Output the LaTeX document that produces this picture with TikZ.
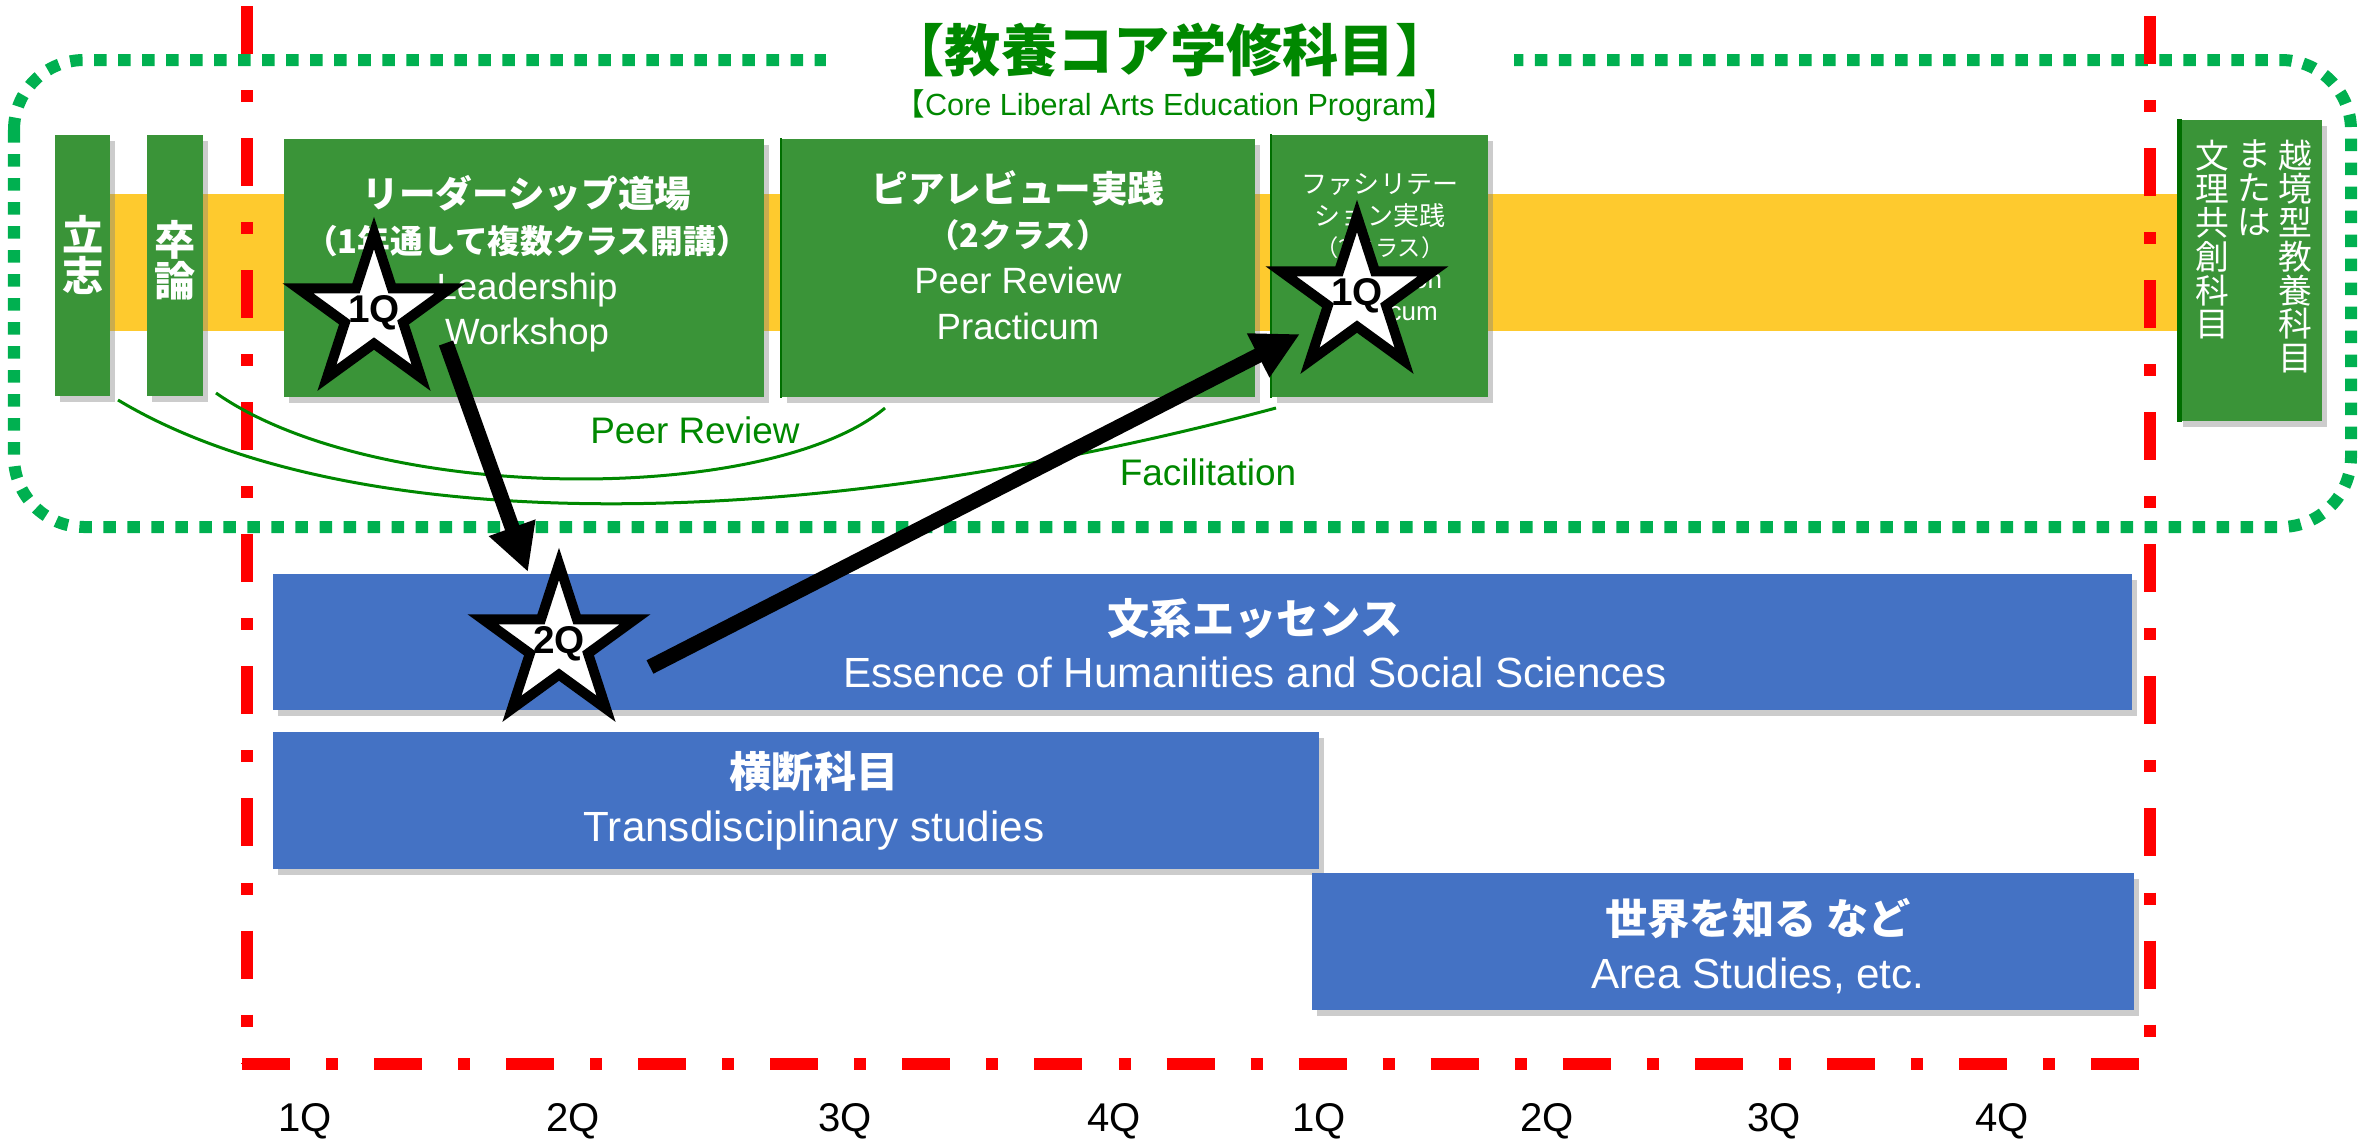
\documentclass[tikz,border=0pt]{standalone}
\usepackage{fontspec}
\setmainfont{Liberation Sans}
\newfontfamily\jp{Noto Sans CJK JP}
\usetikzlibrary{shapes.geometric,shadows,fit,arrows.meta}

\definecolor{dotgreen}{RGB}{0,176,80}
\definecolor{txtgreen}{RGB}{0,136,0}
\definecolor{boxgreen}{RGB}{58,148,56}
\definecolor{edgegreen}{RGB}{0,110,0}
\definecolor{bandyellow}{RGB}{254,202,46}
\definecolor{boxblue}{RGB}{68,114,196}

\tikzstyle{gbox}=[fill=boxgreen,inner sep=0pt,drop shadow={shadow xshift=0.05cm,shadow yshift=-0.06cm,fill=black!50,opacity=0.4}]
\tikzstyle{bbox}=[fill=boxblue,inner sep=0pt,drop shadow={shadow xshift=0.05cm,shadow yshift=-0.06cm,fill=black!50,opacity=0.4}]
\tikzstyle{wtext}=[text=white,align=center,inner sep=0pt]
\tikzstyle{qstar}=[star,star points=5,star point ratio=2.618,draw,line width=0.1cm,fill=white,minimum size=1.6cm,inner sep=0pt]
\tikzstyle{qnum}=[font=\fontsize{11}{13}\selectfont\bfseries,inner sep=0pt]
\tikzstyle{qlabel}=[font=\fontsize{11.4}{13}\selectfont]
\tikzstyle{redframe}=[red,line width=0.12cm,dash pattern=on 0.48cm off 0.36cm on 0.12cm off 0.36cm]
\tikzstyle{linkarc}=[txtgreen,line width=0.03cm]
\tikzstyle{arclabel}=[text=txtgreen,font=\fontsize{10.5}{12}\selectfont]
\tikzstyle{bigarrow}=[line width=0.15cm,-{Triangle[width=0.46cm,length=0.47cm]}]
\newcommand{\pxunit}{0.01cm}

\begin{document}
\begin{tikzpicture}[x=\pxunit, y=-\pxunit]
    \useasboundingbox (0,0) rectangle (2369,1145);
    % First the yellow band behind the green courses
    \fill[bandyellow] (80,194) rectangle (2200,331);
    % The dotted frame of the core program
    \draw[dotgreen,line width=0.12cm,dash pattern=on 0.125cm off 0.115cm,rounded corners=0.7cm]
        (14,60) rectangle (2351,527);
    % Dash-dot frame of the two years
    \draw[redframe] (247,6) -- (247,1064);
    \draw[redframe] (2150,16) -- (2150,1064);
    \draw[redframe] (242,1064) -- (2150,1064);
    % Title over the dotted frame
    \node[text=txtgreen,fill=white,inner xsep=0.63cm,inner ysep=0.05cm,
          font=\jp\bfseries\fontsize{16}{19}\selectfont] (title) at (1170,50) {【教養コア学修科目】};
    \node[text=txtgreen,font=\fontsize{8.7}{10}\selectfont] (subtitle) at (1175,106)
        {{\jp 【}Core Liberal Arts Education Program{\jp 】}};

    % Green course boxes
    \foreach \xa/\ya/\xb/\yb/\name in {55/135/110/396/rissi, 147/135/203/396/sotsu,
                                       284/139/764/397/lead, 782/139/1255/397/peer,
                                       1272/135/1488/397/facil, 2178/120/2322/421/ekyo}
        \node[gbox,fit={(\xa,\ya) (\xb,\yb)}] (\name) {};
    \draw[edgegreen,line width=0.02cm] (peer.north west) -- (peer.south west);
    \draw[edgegreen,line width=0.02cm] (facil.north west) -- (facil.south west);
    \draw[edgegreen,line width=0.05cm] ([xshift=0.025cm]ekyo.north west) -- ([xshift=0.025cm]ekyo.south west);

    \node[wtext,font=\jp\bfseries\fontsize{11.7}{11.7}\selectfont] (tRissi) at (83,255) {立\\志};
    \node[wtext,font=\jp\bfseries\fontsize{11.7}{11.7}\selectfont] (tSotsu) at (175,260) {卒\\論};
    \node[wtext,font=\fontsize{10.4}{13}\selectfont] (tLead) at (527,264)
        {{\jp\bfseries リーダーシップ道場}\\{\jp\bfseries\fontsize{9.3}{13}\selectfont （1年通して複数クラス開講）}\\Leadership\\Workshop};
    \node[wtext,font=\fontsize{10.4}{13}\selectfont] (tPeer) at (1018,255)
        {{\jp\bfseries ピアレビュー実践}\\{\jp\bfseries\fontsize{9.2}{13}\selectfont （2クラス）}\\Peer Review\\Practicum};
    \node[wtext,font=\fontsize{7.4}{9}\selectfont] (tFacil) at (1380,247)
        {{\jp ファシリテー}\\{\jp ション実践}\\{\jp\fontsize{6.6}{9}\selectfont （2クラス）}\\Facilitation\\Practicum};
    \node[wtext,anchor=north,font=\jp\fontsize{9.6}{9.6}\selectfont] (colA) at (2295,139) {越\\境\\型\\教\\養\\科\\目};
    \node[wtext,anchor=north,font=\jp\fontsize{9.6}{9.6}\selectfont] (colB) at (2254,139) {ま\\た\\は};
    \node[wtext,anchor=north,font=\jp\fontsize{9.6}{9.6}\selectfont] (colC) at (2212,139) {文\\理\\共\\創\\科\\目};

    % Links below the green boxes
    \coordinate (pr1) at (216,393);
    \coordinate (pr2) at (885,408);
    \coordinate (fa1) at (118,400);
    \coordinate (fa2) at (1276,408);
    \draw[linkarc] (pr1) .. controls (376,505) and (769,505) .. (pr2);
    \draw[linkarc] (fa1) .. controls (346,537) and (795,537) .. (fa2);
    \node[arclabel] (lblPeer) at (695,430) {Peer Review};
    \node[arclabel] (lblFacil) at (1208,472) {Facilitation};

    % Blue boxes
    \foreach \xa/\ya/\xb/\yb/\name in {273/574/2132/710/essence, 273/732/1319/869/trans,
                                       1312/873/2134/1010/area}
        \node[bbox,fit={(\xa,\ya) (\xb,\yb)}] (\name) {};
    \node[wtext,font=\fontsize{12}{15.2}\selectfont] (tEss) at (1255,643)
        {{\jp\bfseries 文系エッセンス}\\Essence of Humanities and Social Sciences};
    \node[wtext,font=\fontsize{12}{15.2}\selectfont] (tTrans) at (814,801)
        {{\jp\bfseries 横断科目}\\Transdisciplinary studies};
    \node[wtext,font=\fontsize{12}{15.2}\selectfont] (tArea) at (1758,946)
        {{\jp\bfseries 世界を知る など}\\Area Studies, etc.};

    % Quarters
    \foreach \x/\q/\name in {305/1Q/qa, 573/2Q/qb, 845/3Q/qc, 1114/4Q/qd,
                             1319/1Q/qe, 1547/2Q/qf, 1774/3Q/qg, 2002/4Q/qh}
        \node[qlabel] (\name) at (\x,1121) {\q};

    % Arrows and stars
    \coordinate (a1from) at (446,343);
    \coordinate (a1to) at (528,572);
    \coordinate (a2from) at (650,667);
    \coordinate (a2to) at (1300,334);
    \draw[bigarrow] (a1from) -- (a1to);
    \draw[bigarrow] (a2from) -- (a2to);
    \foreach \pos/\q/\name in {{(374,313)/1Q/starA}, {(559,644)/2Q/starB}, {(1357,296)/1Q/starC}}
        \node[qstar,label={[qnum]center:\q}] (\name) at \pos {};
\end{tikzpicture}
\end{document}
